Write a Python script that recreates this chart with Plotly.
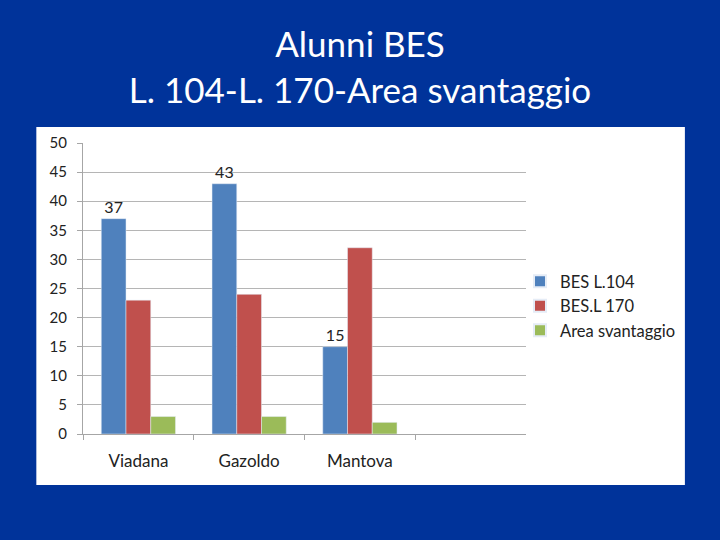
import plotly.graph_objects as go

categories = ["Viadana", "Gazoldo", "Mantova"]
bes_l104 = [37, 43, 15]
bes_l170 = [23, 24, 32]
area_svantaggio = [3, 3, 2]
series_names = ["BES L.104", "BES.L 170", "Area svantaggio"]
colors = ["#4F81BD", "#C0504D", "#9BBB59"]

FONT = "Lato, 'Open Sans', sans-serif"

fig = go.Figure()
fig.add_trace(go.Bar(x=categories, y=bes_l104, name=series_names[0], marker_color=colors[0],
                     text=[str(v) for v in bes_l104], textposition="outside",
                     textfont=dict(size=16, color="#222222", family=FONT), cliponaxis=False))
fig.add_trace(go.Bar(x=categories, y=bes_l170, name=series_names[1], marker_color=colors[1]))
fig.add_trace(go.Bar(x=categories, y=area_svantaggio, name=series_names[2], marker_color=colors[2]))

L, R, T, B = 82.7, 526, 143, 434
W, H = 720, 540
pw, ph = R - L, B - T

def px(x):
    return (x - L) / pw

def py(y):
    return (B - y) / ph

fig.add_shape(type="rect", xref="paper", yref="paper",
              x0=px(36), x1=px(685), y0=py(485), y1=py(127),
              fillcolor="white", line=dict(width=0), layer="below")

fig.update_layout(
    width=W, height=H,
    margin=dict(l=L, r=W - R, t=T, b=H - B, pad=0),
    paper_bgcolor="#00339A",
    plot_bgcolor="white",
    barmode="group",
    bargap=0.33,
    bargroupgap=0,
    font=dict(family=FONT, size=17, color="#222222"),
    title=dict(text="Alunni BES<br>L. 104-L. 170-Area svantaggio",
               x=0.5, xref="container", xanchor="center",
               yref="container", y=1 - 57 / H, yanchor="middle",
               font=dict(family=FONT, size=35, color="white")),
    showlegend=True,
    legend=dict(x=px(520), y=py(264), xanchor="left", yanchor="top",
                bgcolor="rgba(0,0,0,0)", font=dict(size=16.5, color="#222222", family=FONT),
                itemsizing="constant", tracegroupgap=0, traceorder="normal"),
)

fig.update_xaxes(type="category", categoryorder="array", categoryarray=categories,
                 range=[-0.5, 3.5], showline=True, linecolor="#A6A6A6", linewidth=1,
                 ticks="outside", tickson="boundaries", ticklen=5, tickcolor="#A6A6A6",
                 ticklabelstandoff=12,
                 showgrid=False, tickfont=dict(size=17, color="#222222", family=FONT))
fig.update_yaxes(range=[0, 50], dtick=5, showgrid=True, gridcolor="#B5B5B5", gridwidth=1,
                 showline=True, linecolor="#A6A6A6", linewidth=1,
                 ticks="outside", ticklen=5, tickcolor="#A6A6A6", ticklabelstandoff=7,
                 zeroline=False, tickfont=dict(size=15, color="#222222", family=FONT))

fig.write_html("out.html", config={"displayModeBar": False},
               post_script="document.body.style.margin='0';document.body.style.background='#00339A';")
